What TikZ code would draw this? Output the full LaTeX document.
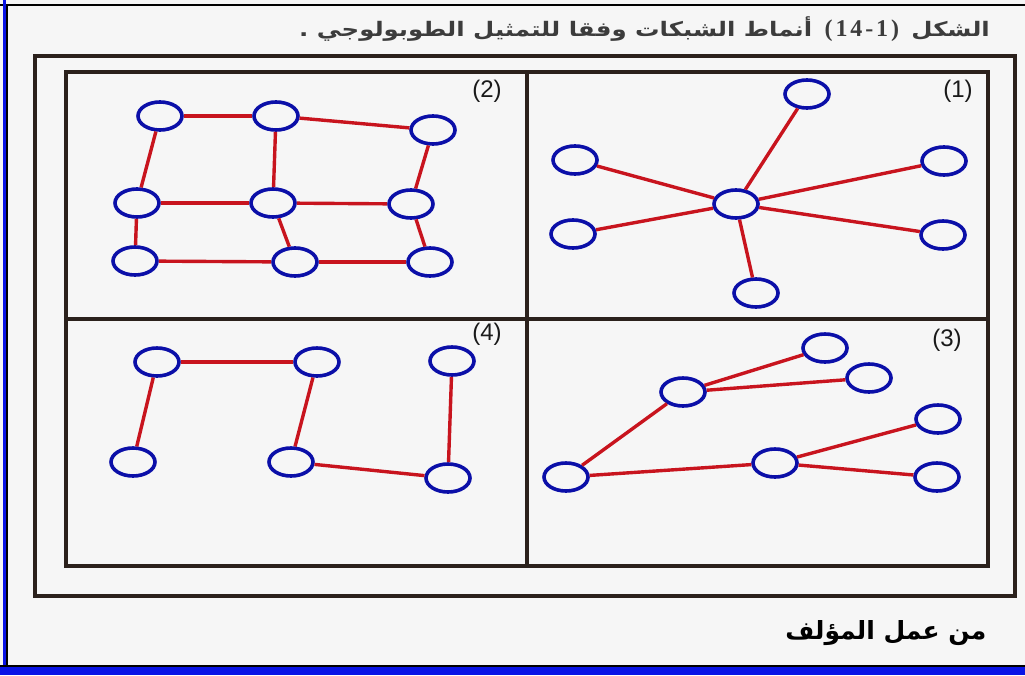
\documentclass[tikz,border=0pt]{standalone}
\usepackage{xcolor}
\usepackage{fontspec}
\usepackage{tikz}
\usetikzlibrary{shapes.geometric, positioning}
\TeXXeTstate=1
\setmainfont{Liberation Sans}
\newfontfamily\arabicfont[Script=Arabic]{DejaVu Sans}
\newfontfamily\titlefont[Script=Arabic, FakeStretch=1.22]{DejaVu Sans}
\newfontfamily\numfont[LetterSpace=12]{Liberation Serif}
\definecolor{nblue}{HTML}{0B0FA8}
\definecolor{lred}{HTML}{C8141E}
\definecolor{fdark}{HTML}{2B211C}
\definecolor{paper}{HTML}{F6F6F6}
\definecolor{ink}{HTML}{1A1A1A}
\definecolor{sideblue}{HTML}{0A14E6}
\tikzset{
  host/.style={ellipse, draw=nblue, line width=3.6pt, minimum width=44pt,
               minimum height=28pt, inner sep=0pt},
  link/.style={draw=lred, line width=3.4pt},
  panel/.style={draw=fdark, line width=4pt},
  tag/.style={font=\fontsize{24}{24}\selectfont, text=ink, inner sep=0pt},
  caption/.style={font=\fontsize{20}{20}\selectfont\titlefont\bfseries, text=ink!85, inner sep=0pt}
}

\begin{document}
\begin{tikzpicture}[x=1pt, y=-1pt]
  \useasboundingbox (0,0) rectangle (1025,675);
  \fill[paper] (0,0) rectangle (1025,675);
  % page edges
  \draw[black, line width=2pt] (0,5) -- (1025,5);
  \draw[sideblue, line width=3pt] (4.5,0) -- (4.5,675);
  \draw[black, line width=1.2pt] (7,5) -- (7,666);
  \fill[sideblue] (0,667) rectangle (1025,675);
  \draw[black, line width=1.5pt] (0,666) -- (1025,666);

  % frames
  \draw[panel] (35,56) rectangle (1015,596);
  \draw[panel] (66,72) rectangle (988,566);
  \draw[panel] (527,72) -- (527,566);
  \draw[panel] (66,319) -- (988,319);

  % captions
  \node[caption, anchor=base east] (title) at (990,36) {\beginR الشكل\endR};
  \node[caption, font=\fontsize{24}{24}\selectfont\numfont\bfseries, base left=12pt of title] (titlenum) {(14-1)};
  \node[caption, base left=12pt of titlenum] (titletext) {\beginR أنماط الشبكات وفقا للتمثيل الطوبولوجي .\endR};
  \node[anchor=east, text=black] (credit) at (990,633)
    {\fontsize{25}{25}\selectfont\arabicfont\bfseries\beginR من عمل المؤلف\endR};

  % (1) star
  \node[tag] (lbl1) at (958,91) {(1)};
  \node[host] (hub) at (736,204) {};
  \node[host] (s1) at (807,94) {};
  \node[host] (s2) at (575,160) {};
  \node[host] (s3) at (573,234) {};
  \node[host] (s4) at (944,161) {};
  \node[host] (s5) at (943,235) {};
  \node[host] (s6) at (756,293) {};
  \draw[link] (hub)--(s1); \draw[link] (hub)--(s2); \draw[link] (hub)--(s3);
  \draw[link] (hub)--(s4); \draw[link] (hub)--(s5); \draw[link] (hub)--(s6);

  % (2) mesh
  \node[tag] (lbl2) at (487,91) {(2)};
  \node[host] (m1) at (160,116) {};
  \node[host] (m2) at (276,116) {};
  \node[host] (m3) at (433,130) {};
  \node[host] (m4) at (137,203) {};
  \node[host] (m5) at (273,203) {};
  \node[host] (m6) at (411,204) {};
  \node[host] (m7) at (135,261) {};
  \node[host] (m8) at (295,262) {};
  \node[host] (m9) at (430,262) {};
  \draw[link] (m1)--(m2); \draw[link] (m2)--(m3); \draw[link] (m1)--(m4);
  \draw[link] (m2)--(m5); \draw[link] (m3)--(m6); \draw[link] (m4)--(m5);
  \draw[link] (m5)--(m6); \draw[link] (m4)--(m7); \draw[link] (m5)--(m8);
  \draw[link] (m6)--(m9); \draw[link] (m7)--(m8); \draw[link] (m8)--(m9);

  % (3) tree
  \node[tag] (lbl3) at (947,340) {(3)};
  \node[host] (t1) at (566,477) {};
  \node[host] (t2) at (683,392) {};
  \node[host] (t3) at (825,348) {};
  \node[host] (t4) at (869,378) {};
  \node[host] (t5) at (775,463) {};
  \node[host] (t6) at (938,419) {};
  \node[host] (t7) at (937,477) {};
  \draw[link] (t1)--(t2); \draw[link] (t2)--(t3); \draw[link] (t2)--(t4);
  \draw[link] (t1)--(t5); \draw[link] (t5)--(t6); \draw[link] (t5)--(t7);

  % (4) pairs
  \node[tag] (lbl4) at (487,334) {(4)};
  \node[host] (p1) at (157,362) {};
  \node[host] (p2) at (317,362) {};
  \node[host] (p3) at (452,361) {};
  \node[host] (p4) at (133,462) {};
  \node[host] (p5) at (291,462) {};
  \node[host] (p6) at (448,478) {};
  \draw[link] (p1)--(p2); \draw[link] (p1)--(p4); \draw[link] (p2)--(p5);
  \draw[link] (p5)--(p6); \draw[link] (p3)--(p6);
\end{tikzpicture}
\end{document}
